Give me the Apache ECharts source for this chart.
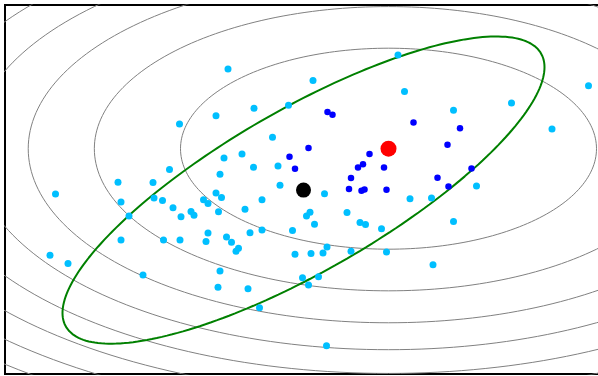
<!DOCTYPE html>
<html>
<head>
<meta charset="utf-8">
<script src="https://cdn.jsdelivr.net/npm/echarts@6/dist/echarts.min.js"></script>
<style>
html,body{margin:0;padding:0;background:#fff;overflow:hidden;}
#chart{width:598px;height:376px;}
</style>
</head>
<body>
<div id="chart"></div>
<script>
// light-blue sample points [x, y]
var lightPoints = [
[4.46,10.17],[7.86,10.63],[6.16,9.78],[11.67,9.61],[7.99,9.42],[4.98,8.86],[5.67,8.96],[4.22,8.61],
[8.97,8.79],[10.13,9.03],[10.94,8.17],[3.49,8.33],[5.35,7.89],[4.74,7.33],[4.38,7.20],[3.29,6.82],
[4.97,6.89],[5.46,6.93],[4.30,6.66],[2.26,6.39],[2.96,6.38],[5.50,6.29],[9.43,6.27],[1.01,6.00],
[4.22,6.03],[4.33,5.88],[3.97,5.81],[4.06,5.68],[2.98,5.87],[3.15,5.78],[5.14,5.81],[6.39,6.01],
[8.10,5.84],[8.53,5.87],[2.32,5.73],[3.36,5.54],[4.80,5.49],[4.27,5.41],[3.72,5.42],[3.78,5.29],
[3.52,5.24],[2.48,5.27],[6.10,5.39],[6.03,5.27],[6.84,5.38],[6.19,4.99],[7.10,5.05],[7.21,4.98],
[7.53,4.84],[8.97,5.08],[5.14,4.80],[5.75,4.78],[4.90,4.71],[4.06,4.70],[2.32,4.47],[3.17,4.47],
[3.50,4.47],[4.02,4.42],[4.43,4.57],[4.53,4.39],[4.67,4.19],[4.62,4.09],[5.80,3.99],[6.12,4.02],
[6.36,4.03],[6.44,4.23],[6.92,4.09],[7.63,4.07],[0.90,3.96],[1.26,3.68],[2.76,3.30],[4.30,3.43],
[4.26,2.89],[4.86,2.84],[5.09,2.21],[5.95,3.21],[6.27,3.24],[6.07,2.97],[8.56,3.64],[6.43,0.94]
];
// dark-blue sample points [x, y]
var darkPoints = [
[6.45,8.73],[6.55,8.64],[8.17,8.38],[9.10,8.19],[8.85,7.64],[6.07,7.53],[7.29,7.33],[5.69,7.24],
[7.16,6.99],[7.06,6.88],[7.58,6.88],[5.80,6.84],[9.33,6.85],[6.92,6.53],[8.65,6.54],[6.88,6.17],
[7.19,6.15],[7.13,6.11],[7.63,6.14],[8.87,6.25]
];
// sample mean (black) and true mean (red)
var sampleMean = [[5.97,6.13]];
var trueMean = [[7.67,7.51]];
// gray contour ellipses: centre, semi-axes at level 1, levels
var contourCenter = [7.67,7.51];
var contourSemiAxes = [4.16,3.35];
var contourLevels = [1,2,3,4,5,6,7,8,9,10];
// green covariance ellipse: centre, std devs, correlation
var covCenter = [5.97,6.13];
var covStd = [4.82,5.12];
var covCorr = [0.80];

var N = 240;
function axisEllipse(c, ab, k) {
  var pts = [], s = Math.sqrt(k);
  for (var i = 0; i <= N; i++) {
    var t = 2*Math.PI*i/N;
    pts.push([c[0] + ab[0]*s*Math.cos(t), c[1] + ab[1]*s*Math.sin(t)]);
  }
  return pts;
}
function covEllipse(c, sd, r) {
  var pts = [], q = Math.sqrt(1 - r*r);
  for (var i = 0; i <= N; i++) {
    var t = 2*Math.PI*i/N;
    pts.push([c[0] + sd[0]*Math.cos(t), c[1] + sd[1]*(r*Math.cos(t) + q*Math.sin(t))]);
  }
  return pts;
}

var series = [];
contourLevels.forEach(function(k){
  series.push({type:'line', data: axisEllipse(contourCenter, contourSemiAxes, k), showSymbol:false, symbol:'none',
    lineStyle:{color:'#808080', width:1}, silent:true, clip:true, z:1});
});
series.push({type:'line', data: covEllipse(covCenter, covStd, covCorr[0]), showSymbol:false, symbol:'none',
  lineStyle:{color:'#008000', width:2}, silent:true, clip:true, z:2});
series.push({type:'scatter', data: lightPoints, symbolSize:7, itemStyle:{color:'#00BFFF', opacity:1}, z:3});
series.push({type:'scatter', data: darkPoints, symbolSize:6.5, itemStyle:{color:'#0000FF', opacity:1}, z:4});
series.push({type:'scatter', data: sampleMean, symbolSize:15, itemStyle:{color:'#000000', opacity:1}, z:5});
series.push({type:'scatter', data: trueMean, symbolSize:16, itemStyle:{color:'#FF0000', opacity:1}, z:6});

var chart = echarts.init(document.getElementById('chart'));
chart.setOption({
  animation:false,
  backgroundColor:'#ffffff',
  grid:{left:5, top:5, width:595, height:369, outerBoundsMode:'none', containLabel:false,
        show:true, borderColor:'#000', borderWidth:2, backgroundColor:'transparent'},
  xAxis:{type:'value', min:0, max:11.9, axisLine:{show:false}, axisTick:{show:false}, axisLabel:{show:false}, splitLine:{show:false}},
  yAxis:{type:'value', min:0, max:12.3, axisLine:{show:false}, axisTick:{show:false}, axisLabel:{show:false}, splitLine:{show:false}},
  series: series
});
</script>
</body>
</html>
